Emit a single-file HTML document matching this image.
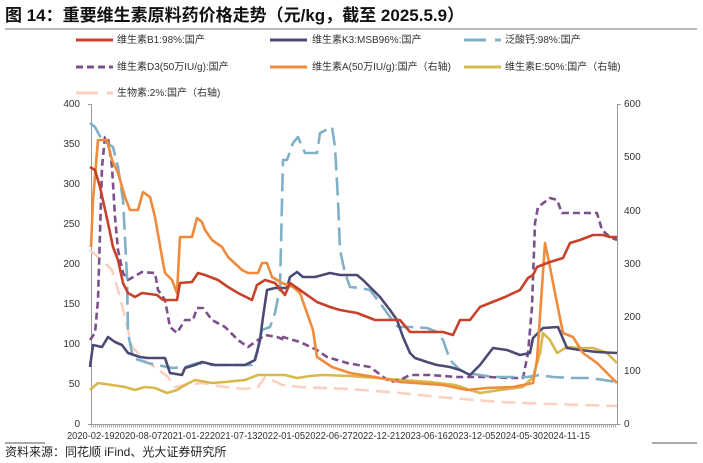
<!DOCTYPE html>
<html><head><meta charset="utf-8"><style>
body{margin:0;background:#fff;width:703px;height:463px;overflow:hidden}
svg{display:block}
text{font-family:"Liberation Sans","Noto Sans CJK SC",sans-serif}
</style></head><body>
<svg width="703" height="463" viewBox="0 0 703 463" xmlns="http://www.w3.org/2000/svg">
<text x="5" y="21" font-size="17" font-weight="bold" fill="#111">图 14：重要维生素原料药价格走势（元/kg，截至 2025.5.9）</text>
<line x1="5" y1="29" x2="697" y2="29" stroke="#777" stroke-width="1"/>
<g font-size="10" fill="#333">
<line x1="76" y1="40" x2="113" y2="40" stroke="#c8412a" stroke-width="3"/><text x="117" y="43">维生素B1:98%:国产</text>
<line x1="270" y1="40" x2="307" y2="40" stroke="#4b4a75" stroke-width="3"/><text x="312" y="43">维生素K3:MSB96%:国产</text>
<line x1="464" y1="40" x2="501" y2="40" stroke="#7fb0c8" stroke-width="3" stroke-dasharray="22,9"/><text x="505" y="43">泛酸钙:98%:国产</text>
<line x1="76" y1="67" x2="113" y2="67" stroke="#7d4f8c" stroke-width="3" stroke-dasharray="7,4"/><text x="117" y="70">维生素D3(50万IU/g):国产</text>
<line x1="270" y1="67" x2="307" y2="67" stroke="#f08a3c" stroke-width="3"/><text x="312" y="70">维生素A(50万IU/g):国产（右轴)</text>
<line x1="464" y1="67" x2="501" y2="67" stroke="#d8b84a" stroke-width="3"/><text x="505" y="70">维生素E:50%:国产（右轴)</text>
<line x1="76" y1="93" x2="113" y2="93" stroke="#fcd0bf" stroke-width="3" stroke-dasharray="22,9"/><text x="117" y="96">生物素:2%:国产（右轴)</text>
</g>
<g font-size="10" fill="#333">
<text x="80" y="107" text-anchor="end">400</text><text x="80" y="147" text-anchor="end">350</text><text x="80" y="187" text-anchor="end">300</text><text x="80" y="227" text-anchor="end">250</text><text x="80" y="267" text-anchor="end">200</text><text x="80" y="307" text-anchor="end">150</text><text x="80" y="347" text-anchor="end">100</text><text x="80" y="387" text-anchor="end">50</text><text x="80" y="427" text-anchor="end">0</text>
<text x="624" y="107">600</text><text x="624" y="160">500</text><text x="624" y="214">400</text><text x="624" y="267">300</text><text x="624" y="320">200</text><text x="624" y="374">100</text><text x="624" y="427">0</text>
</g>
<g stroke="#999" stroke-width="1" fill="none">
<path d="M91.5,104V424.5H617.5V104"/>
<path d="M88,104.5h3.5M88,424.5h3.5M617.5,104.5h3M617.5,424.5h3"/>
</g>
<line x1="91" y1="426" x2="617" y2="426" stroke="#aaa" stroke-width="3" stroke-dasharray="1,1"/>
<text x="67" y="439" font-size="10" fill="#333" textLength="523" lengthAdjust="spacingAndGlyphs">2020-02-192020-08-072021-01-222021-07-132022-01-052022-06-272022-12-212023-06-162023-12-052024-05-302024-11-15</text>
<line x1="5" y1="443" x2="45" y2="443" stroke="#555"/><line x1="652" y1="443" x2="697" y2="443" stroke="#555"/>
<text x="5" y="456" font-size="12" fill="#222">资料来源：同花顺 iFind、光大证券研究所</text>
<g fill="none" stroke-linejoin="round" stroke-width="2.6">
<polyline stroke="#fcd0bf" stroke-dasharray="14,7" points="90,250 98,257 105,263 112,270 118,290 125,317 132,347 138,353 143,360 148,363 155,367 168,377 175,387 185,385 202,383 225,387 245,389 258,387 265,377 272,380 282,385 300,387 350,389 400,393 450,398 500,402 550,404 617,406"/>
<polyline stroke="#d8b84a" points="90,390 98,383 112,385 125,387 135,390 145,387 155,388 167,393 177,390 185,385 195,380 212,383 225,382 245,380 258,375 268,375 285,375 297,378 310,376 323,375 350,376 377,378 403,380 430,382 455,385 470,390 480,393 500,390 523,387 533,377 540,353 543,333 550,340 557,353 567,347 580,348 593,348 607,353 617,363"/>
<polyline stroke="#7d4f8c" stroke-dasharray="7,4" points="90,340 95,333 98,300 100,233 102,167 105,137 108,138 112,167 115,217 118,250 123,273 128,280 142,272 155,273 158,290 165,300 170,327 177,333 185,320 193,320 197,308 203,308 212,320 225,327 238,340 248,347 258,340 265,335 277,337 285,340 283,337 300,342 317,350 327,357 347,363 370,367 390,382 400,380 410,375 430,375 457,377 470,377 480,377 490,377 507,378 523,378 528,353 532,307 535,223 538,207 550,198 557,200 562,213 597,213 602,230 610,237 617,240"/>
<polyline stroke="#7fb0c8" stroke-dasharray="18,7" points="90,123 95,127 102,140 113,147 118,167 123,200 127,277 128,333 133,358 148,363 167,367 173,368 185,367 198,363 212,365 252,365 257,353 262,330 270,327 275,313 280,287 283,160 287,160 293,143 298,137 305,153 317,153 320,133 332,127 335,147 338,200 340,250 345,273 350,287 360,288 370,290 380,303 390,317 398,327 410,327 427,328 437,332 443,340 450,360 460,370 467,373 480,375 493,377 507,377 527,377 540,375 553,377 573,378 590,378 617,382"/>
<polyline stroke="#4b4a75" points="90,367 93,345 102,347 108,337 115,342 122,345 128,353 140,357 148,358 165,358 170,373 182,375 185,368 195,365 202,362 215,365 245,365 255,360 260,340 263,317 267,290 275,288 287,288 290,277 297,272 303,277 315,277 330,273 340,275 357,275 363,280 370,287 380,297 390,310 397,320 403,337 410,353 415,358 427,362 437,365 450,367 460,370 470,375 480,365 493,348 507,350 520,355 530,353 533,338 543,328 558,327 567,348 580,350 597,352 617,353"/>
<polyline stroke="#f08a3c" points="91,247 93,200 98,140 107,140 112,160 118,173 125,197 130,210 138,210 143,192 150,197 155,217 162,257 165,273 172,280 177,293 180,237 192,237 197,218 202,222 205,230 212,240 222,247 228,257 242,270 248,273 258,273 262,263 267,263 272,277 282,283 293,287 300,293 307,313 313,330 317,357 332,367 350,373 375,377 400,382 443,385 467,390 487,388 513,387 533,383 537,360 542,287 545,243 550,267 555,293 563,333 573,337 583,353 597,363 607,373 617,383"/>
<polyline stroke="#c8412a" points="90,167 95,170 100,187 108,223 113,247 118,260 123,283 128,293 135,297 142,293 157,295 163,300 177,300 180,283 192,282 198,273 205,275 218,280 228,287 238,293 252,300 257,285 265,280 275,283 285,295 290,283 300,290 317,302 330,307 340,310 357,313 375,320 400,320 410,332 413,332 430,332 443,332 453,335 460,320 470,320 480,307 490,303 505,297 520,290 528,278 533,275 537,267 550,262 563,258 570,243 580,240 593,235 603,235 610,237 617,237"/>
</g>
</svg>
</body></html>
